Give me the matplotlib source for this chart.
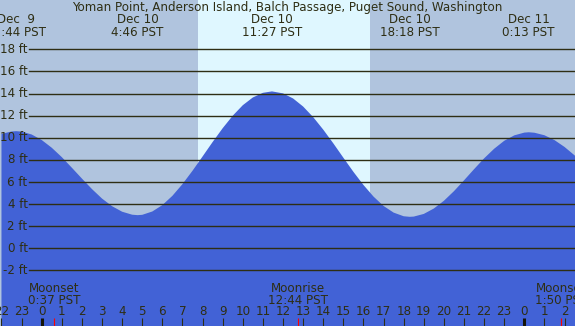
import matplotlib

matplotlib.use("Agg")
import matplotlib.pyplot as plt

TITLE = "Yoman Point, Anderson Island, Balch Passage, Puget Sound, Washington"

# hours counted from Dec 10 00:00 PST, water level in feet
tide_hours = [-2, -1.5, -1.27, -1, -0.5, 0, 0.5, 1, 1.5, 2, 2.5, 3, 3.5, 4, 4.5,
              4.77, 5, 5.5, 6, 6.5, 7, 7.5, 8, 8.5, 9, 9.5, 10, 10.5, 11,
              11.45, 12, 12.5, 13, 13.5, 14, 14.5, 15, 15.5, 16, 16.5, 17,
              17.5, 18, 18.3, 18.5, 19, 19.5, 20, 20.5, 21, 21.5, 22, 22.5,
              23, 23.5, 24, 24.22, 24.5, 25, 25.5, 26, 26.5, 27]
tide_ft = [10.35, 10.57, 10.6, 10.56, 10.30, 9.80, 9.10, 8.25, 7.29, 6.31,
           5.36, 4.50, 3.81, 3.31, 3.04, 3.0, 3.03, 3.33, 3.91, 4.75, 5.81,
           7.02, 8.31, 9.62, 10.87, 12.00, 12.95, 13.65, 14.07, 14.2, 14.02,
           13.56, 12.83, 11.87, 10.74, 9.50, 8.20, 6.92, 5.73, 4.68, 3.83,
           3.23, 2.90, 2.85, 2.87, 3.11, 3.60, 4.30, 5.17, 6.15, 7.16, 8.14,
           9.01, 9.73, 10.22, 10.47, 10.5, 10.46, 10.23, 9.79, 9.17, 8.41,
           7.56]

extreme_hours = [-1.267, 4.767, 11.45, 18.3, 24.217]
extreme_dates = ["Dec  9", "Dec 10", "Dec 10", "Dec 10", "Dec 11"]
extreme_times = ["22:44 PST", "4:46 PST", "11:27 PST", "18:18 PST", "0:13 PST"]

sunrise = 7.76
sunset = 16.33

moon_hours = [0.617, 12.733, 25.833]
moon_events = ["Moonset", "Moonrise", "Moonset"]
moon_times = ["0:37 PST", "12:44 PST", "1:50 PST"]

level_ticks = [-2, 0, 2, 4, 6, 8, 10, 12, 14, 16, 18]
hour_ticks = list(range(-2, 27))

W, H = 575, 326
PX_PER_HOUR = 20.11
X_ZERO = 41.7      # pixel column of Dec 10 00:00
PX_PER_FT = 11.05
Y_ZERO = 248.3     # pixel row of 0 ft

NIGHT = "#b0c4de"
DAY = "#dff7ff"
WATER = "#4262d6"
INK = "#2e2e14"
FONT = 8.6


def main():
    fig = plt.figure(figsize=(W / 100, H / 100), dpi=100)
    ax = fig.add_axes([0, 0, 1, 1])
    x_lo = -X_ZERO / PX_PER_HOUR
    x_hi = (W - X_ZERO) / PX_PER_HOUR
    y_lo = (Y_ZERO - H) / PX_PER_FT
    y_hi = Y_ZERO / PX_PER_FT
    ax.set_xlim(x_lo, x_hi)
    ax.set_ylim(y_lo, y_hi)
    ax.axis("off")

    ax.axvspan(x_lo, sunrise, color=NIGHT, lw=0, zorder=0)
    ax.axvspan(sunrise, sunset, color=DAY, lw=0, zorder=0)
    ax.axvspan(sunset, x_hi, color=NIGHT, lw=0, zorder=0)

    ax.fill_between(tide_hours, tide_ft, y_lo - 1, color=WATER, lw=0, zorder=1)

    for lvl in level_ticks:
        ax.axhline(lvl, xmin=29.3 / W, xmax=1, color=INK, lw=1.0, zorder=2)
        ax.text(27.5 / W, lvl, f"{lvl} ft", transform=ax.get_yaxis_transform(),
                ha="right", va="center", fontsize=FONT, color=INK, zorder=3)

    ax.text(0.5, 1 - 7.5 / H, TITLE, transform=ax.transAxes, ha="center",
            va="center", fontsize=FONT, color=INK)
    tx = ax.get_xaxis_transform()
    for hr, day, tm in zip(extreme_hours, extreme_dates, extreme_times):
        ax.text(hr, 1 - 19.5 / H, day, transform=tx, ha="center", va="center",
                fontsize=FONT, color=INK)
        ax.text(hr, 1 - 32 / H, tm, transform=tx, ha="center", va="center",
                fontsize=FONT, color=INK)

    for hr, ev, tm in zip(moon_hours, moon_events, moon_times):
        ax.text(hr, 1 - 288 / H, ev, transform=tx, ha="center", va="center",
                fontsize=FONT, color=INK)
        ax.text(hr, 1 - 300 / H, tm, transform=tx, ha="center", va="center",
                fontsize=FONT, color=INK)
        ax.vlines(hr, 0, 8 / H, transform=tx, color="red", lw=0.8, zorder=4)

    for hr in hour_ticks:
        ax.text(hr, 1 - 311.5 / H, str(hr % 24), transform=tx, ha="center",
                va="center", fontsize=FONT, color=INK)
        if hr % 24 == 0:
            ax.vlines(hr, 0, 8 / H, transform=tx, color="#141408", lw=2.2, zorder=3)
        else:
            ax.vlines(hr, 0, 8 / H, transform=tx, color=INK, lw=0.8, zorder=3)

    fig.savefig("out.png", dpi=100)


if __name__ == "__main__":
    main()
